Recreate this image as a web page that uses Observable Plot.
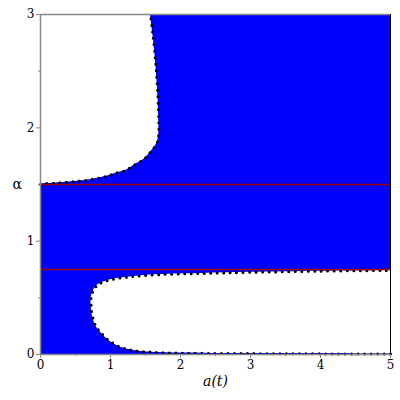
<!DOCTYPE html>
<html>
<head>
<meta charset="utf-8">
<script src="https://cdn.jsdelivr.net/npm/d3@7"></script>
<script src="https://cdn.jsdelivr.net/npm/@observablehq/plot@0.6"></script>
<style>
  html, body { margin: 0; padding: 0; background: white; }
</style>
</head>
<body>
<div id="chart"></div>
<script>
// Upper white region boundary (x as a function of alpha)
const upperY = [1.5, 1.506, 1.511, 1.517, 1.526, 1.535, 1.55, 1.57, 1.60, 1.624, 1.674, 1.718, 1.785, 1.87, 1.96, 2.05, 2.24, 2.45, 2.68, 2.85, 3.0];
const upperX = [0, 0.04, 0.18, 0.33, 0.48, 0.63, 0.78, 0.93, 1.071, 1.214, 1.347, 1.467, 1.571, 1.667, 1.69, 1.69, 1.68, 1.66, 1.63, 1.60, 1.57];
// Lower white region boundary
const lowerY = [0.004, 0.008, 0.015, 0.029, 0.044, 0.071, 0.124, 0.197, 0.256, 0.35, 0.432, 0.506, 0.571, 0.618, 0.647, 0.668, 0.682, 0.691, 0.705, 0.715, 0.725, 0.735, 0.742];
const lowerX = [5.0, 3.0, 1.8, 1.40, 1.26, 1.12, 0.976, 0.857, 0.786, 0.738, 0.724, 0.724, 0.762, 0.824, 0.929, 1.07, 1.24, 1.38, 1.7, 2.3, 3.0, 4.0, 5.0];
// Red horizontal reference lines
const redLines = [0.75, 1.5];
const xTicks = [0, 1, 2, 3, 4, 5];
const yTicks = [0, 1, 2, 3];
const xMinor = [0.5, 1.5, 2.5, 3.5, 4.5];
const yMinor = [0.5, 1.5, 2.5];
const xLabel = "a(t)";
const yLabel = "α";

const upper = upperY.map((y, i) => ({y, x: upperX[i]}));
const lower = lowerY.map((y, i) => ({y, x: lowerX[i]}));
const serif = "DejaVu Serif";

const chart = Plot.plot({
  width: 400,
  height: 400,
  marginLeft: 40,
  marginRight: 10,
  marginTop: 14,
  marginBottom: 46,
  x: {domain: [0, 5]},
  y: {domain: [0, 3]},
  style: "font-family: 'DejaVu Serif'; font-size: 12px; background: white; color: black;",
  marks: [
    Plot.rect([0], {x1: 0, x2: 5, y1: 0, y2: 3, fill: "#0000ff"}),
    Plot.areaX(upper, {y: "y", x1: 0, x2: "x", fill: "white", curve: "catmull-rom"}),
    Plot.areaX(lower, {y: "y", x1: "x", x2: 5, fill: "white", curve: "catmull-rom"}),
    Plot.line(upper, {x: "x", y: "y", stroke: "black", strokeWidth: 3, strokeDasharray: "0,6.5", strokeLinecap: "round", curve: "catmull-rom"}),
    Plot.line(lower, {x: "x", y: "y", stroke: "black", strokeWidth: 3, strokeDasharray: "0,6.5", strokeLinecap: "round", curve: "catmull-rom"}),
    Plot.ruleY(redLines, {stroke: "#a00000", strokeWidth: 1.3}),
    Plot.ruleY([3], {stroke: "#888", strokeWidth: 1.5}),
    Plot.ruleX([5], {stroke: "black", strokeWidth: 1}),
    Plot.ruleY([0], {stroke: "#888", strokeWidth: 1.5}),
    Plot.ruleX([0], {stroke: "#888", strokeWidth: 1.5}),
    Plot.axisX(xTicks, {tickSize: 4, tickPadding: 2, stroke: "#888", tickFormat: d => String(d), label: null, fontSize: 12, fontFamily: serif}),
    Plot.axisX(xMinor, {tickSize: 2, stroke: "#888", text: null, label: null}),
    Plot.axisY(yTicks, {tickSize: 4, tickPadding: 2, stroke: "#888", tickFormat: d => String(d), label: null, fontSize: 12, fontFamily: serif}),
    Plot.axisY(yMinor, {tickSize: 2, stroke: "#888", text: null, label: null}),
    Plot.text([xLabel], {frameAnchor: "bottom", dy: 31, fontStyle: "italic", fontSize: 14, fontFamily: serif, text: d => d}),
    Plot.text([yLabel], {frameAnchor: "left", dx: -28, fontSize: 14, fontFamily: serif, text: d => d})
  ]
});
document.getElementById("chart").appendChild(chart);
</script>
</body>
</html>
